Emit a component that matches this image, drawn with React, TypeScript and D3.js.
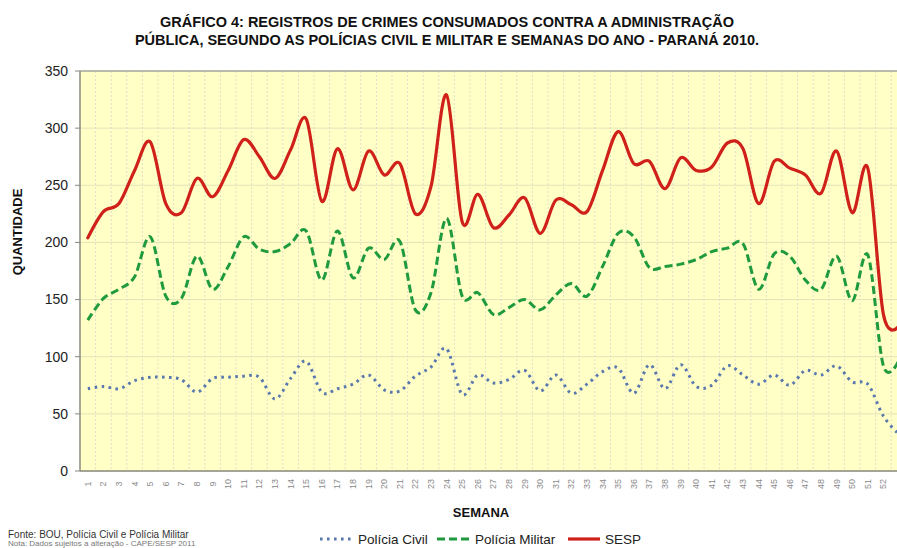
import React from "react";
import * as d3 from "d3";

const weeks: string[] = [
  "1","2","3","4","5","6","7","8","9","10","11","12","13","14","15","16","17","18","19","20",
  "21","22","23","24","25","26","27","28","29","30","31","32","33","34","35","36","37","38","39","40",
  "41","42","43","44","45","46","47","48","49","50","51","52","53",
];

const policiaCivil: number[] = [
  72, 74, 72, 79, 82, 82, 80, 69, 81, 82, 83, 82, 63, 81, 96, 69, 72, 76, 84, 71,
  70, 83, 91, 107, 67, 84, 77, 80, 88, 70, 84, 68, 76, 87, 90, 68, 93, 72, 93, 74,
  75, 92, 84, 76, 84, 75, 88, 84, 92, 78, 76, 48, 32,
];

const policiaMilitar: number[] = [
  132, 151, 159, 170, 205, 153, 151, 188, 159, 179, 205, 194, 192, 199, 210, 167, 210, 169, 195, 185,
  201, 141, 156, 221, 153, 156, 137, 143, 150, 141, 154, 164, 153, 179, 208, 205, 178, 179, 181, 185,
  192, 195, 199, 159, 190, 188, 167, 159, 188, 149, 189, 92, 97,
];

const sesp: number[] = [
  204, 227, 234, 263, 288, 234, 226, 256, 240, 263, 290, 275, 256, 281, 308, 236, 282, 246, 280, 259,
  269, 225, 249, 329, 218, 242, 213, 224, 239, 208, 237, 233, 227, 263, 297, 269, 271, 247, 274, 263,
  266, 287, 282, 234, 271, 265, 259, 243, 280, 226, 265, 137, 127,
];

const yTicks: number[] = [0, 50, 100, 150, 200, 250, 300, 350];

const titleLines: string[] = [
  "GRÁFICO 4: REGISTROS DE CRIMES CONSUMADOS CONTRA A ADMINISTRAÇÃO",
  "PÚBLICA, SEGUNDO AS POLÍCIAS CIVIL E MILITAR E SEMANAS DO ANO  - PARANÁ 2010.",
];

const seriesNames: string[] = ["Polícia Civil", "Polícia Militar", "SESP"];

const W = 897;
const H = 548;
const left = 80;
const top = 71;
const bottom = 471;
const band = 15.6;

export default function App() {
  const x = d3
    .scaleBand<string>()
    .domain(weeks)
    .range([left, left + band * weeks.length])
    .padding(0);
  const y = d3.scaleLinear().domain([0, 350]).range([bottom, top]);
  const cx = (w: string) => (x(w) as number) + x.bandwidth() / 2;
  const right = left + band * weeks.length;

  const line = d3
    .line<number>()
    .x((_, i) => cx(weeks[i]))
    .y((v) => y(v))
    .curve(d3.curveCardinal.tension(0));

  const styles = [
    { data: policiaCivil, stroke: "#5a78ad", width: 3, dash: "2.6,4.4", cap: "butt" },
    { data: policiaMilitar, stroke: "#1f9a3e", width: 3, dash: "8,4", cap: "butt" },
    { data: sesp, stroke: "#d0201a", width: 3.2, dash: "none", cap: "round" },
  ];

  const font = "'Liberation Sans', Arial, sans-serif";
  const narrow = "'Liberation Sans Narrow', 'Arial Narrow', 'Liberation Sans', sans-serif";

  const legendItems = [
    { x0: 320, x1: 352, tx: 358, s: styles[0] },
    { x0: 437, x1: 470, tx: 475, s: styles[1] },
    { x0: 568, x1: 600, tx: 605, s: styles[2] },
  ];

  const visibleWeeks = weeks.filter((w) => cx(w) + 6 < W);

  return (
    <svg
      width={W}
      height={H}
      style={{ position: "absolute", left: 0, top: 0, background: "#fff" }}
    >
      <rect x={0} y={0} width={W} height={H} fill="#ffffff" />
      {titleLines.map((t, i) => (
        <text
          key={i}
          x={447}
          y={27 + i * 18}
          textAnchor="middle"
          fontFamily={narrow}
          fontWeight="bold"
          fontSize={14.5}
          fill="#111"
        >
          {t}
        </text>
      ))}

      <rect x={left} y={top} width={right - left} height={bottom - top} fill="#ffffc6" />

      {yTicks.map((t) => (
        <line key={"h" + t} x1={left} x2={right} y1={y(t)} y2={y(t)} stroke="#e3e3b8" strokeWidth={1} />
      ))}
      {weeks.map((w) => (
        <line
          key={"v" + w}
          x1={(x(w) as number) + band}
          x2={(x(w) as number) + band}
          y1={top}
          y2={bottom}
          stroke="#deded0"
          strokeWidth={1}
          strokeDasharray="2,2"
        />
      ))}

      <line x1={left} x2={right} y1={top} y2={top} stroke="#a8a8a0" strokeWidth={1.5} />
      <line x1={left} x2={left} y1={top} y2={bottom} stroke="#8a8a80" strokeWidth={1.5} />
      <line x1={left} x2={right} y1={bottom} y2={bottom} stroke="#8a8a80" strokeWidth={1.5} />

      {yTicks.map((t) => (
        <g key={"yt" + t}>
          <line x1={left - 5} x2={left} y1={y(t)} y2={y(t)} stroke="#8a8a80" />
          <text
            x={68}
            y={y(t)}
            dy="0.35em"
            textAnchor="end"
            fontFamily={font}
            fontSize={14}
            fill="#222"
          >
            {t}
          </text>
        </g>
      ))}

      {visibleWeeks.map((w) => (
        <text
          key={"xt" + w}
          transform={`translate(${cx(w) + 3},${484}) rotate(-90)`}
          textAnchor="middle"
          fontFamily={font}
          fontSize={9}
          fill="#8a8a8a"
        >
          {w}
        </text>
      ))}

      <text
        transform={`translate(${22},${232}) rotate(-90)`}
        textAnchor="middle"
        fontFamily={font}
        fontWeight="bold"
        fontSize={13}
        fill="#111"
      >
        QUANTIDADE
      </text>
      <text x={481} y={517} textAnchor="middle" fontFamily={font} fontWeight="bold" fontSize={13} fill="#111">
        SEMANA
      </text>

      {styles.map((s, i) => (
        <path
          key={"s" + i}
          d={line(s.data) || ""}
          fill="none"
          stroke={s.stroke}
          strokeWidth={s.width}
          strokeDasharray={s.dash}
          strokeLinecap={s.cap as any}
          strokeLinejoin="round"
        />
      ))}

      {legendItems.map((l, i) => (
        <g key={"lg" + i}>
          <line
            x1={l.x0}
            x2={l.x1}
            y1={539}
            y2={539}
            stroke={l.s.stroke}
            strokeWidth={l.s.width}
            strokeDasharray={l.s.dash}
          />
          <text x={l.tx} y={539} dy="0.35em" fontFamily={font} fontSize={13.5} fill="#222">
            {seriesNames[i]}
          </text>
        </g>
      ))}

      <text x={8} y={538} fontFamily={font} fontSize={10} fill="#333">
        Fonte: BOU, Polícia Civil e Polícia Militar
      </text>
      <text x={8} y={546} fontFamily={font} fontSize={8} fill="#777">
        Nota: Dados sujeitos a alteração - CAPE/SESP 2011
      </text>
    </svg>
  );
}
